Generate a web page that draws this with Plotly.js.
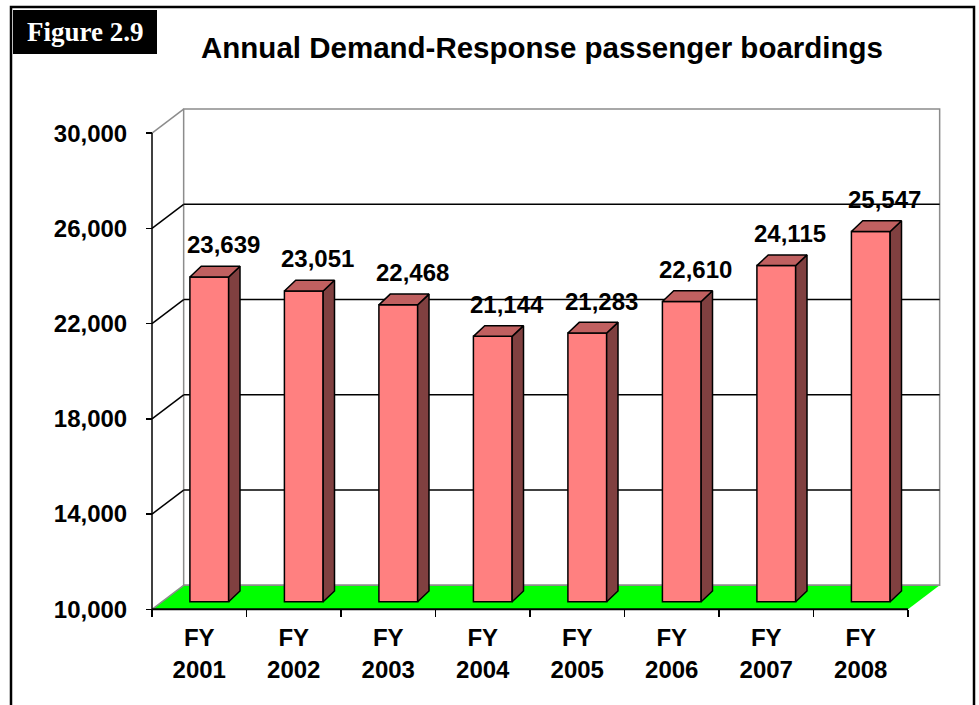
<!DOCTYPE html>
<html>
<head>
<meta charset="utf-8">
<script src="https://cdn.plot.ly/plotly-3.0.1.min.js"></script>
<style>html,body{margin:0;padding:0;background:#fff;}#chart{width:979px;height:705px;}</style>
</head>
<body>
<div id="chart"></div>
<script>
// ---- data ----
const categories = ['FY<br>2001', 'FY<br>2002', 'FY<br>2003', 'FY<br>2004', 'FY<br>2005', 'FY<br>2006', 'FY<br>2007', 'FY<br>2008'];
const boardings = [23639, 23051, 22468, 21144, 21283, 22610, 24115, 25547];
const yTicks = [10000, 14000, 18000, 22000, 26000, 30000];
const chartTitle = 'Annual Demand-Response passenger boardings';
const figureLabel = 'Figure 2.9';

// ---- geometry / style ----
const WIDTH = 979, HEIGHT = 705;
const L = 130, R = 20, T = 95, B = 80;
const PW = WIDTH - L - R, PH = HEIGHT - T - B;
const FX = 152, CW = 94.5;          // px of front x-axis start, px per category
const FY = 609.3, VK = 0.02381;     // px of y minimum, px per unit
const VMIN = yTicks[0], VMAX = yTicks[yTicks.length - 1];
const DX = 0.335, DY = 1008;        // wall depth in data units
const BOFF = 0.317;                 // bar front-face depth fraction
const BW = 0.41, BDX = 0.12, BDY = 450;
const FRONT_X = BOFF * DX, FRONT_Y = BOFF * DY;
const BASE = VMIN + FRONT_Y;
const n = boardings.length;
const xLo = -0.5, xHi = n - 0.5;

const xr0 = (L - FX) / CW - 0.5, xr1 = (L + PW - FX) / CW - 0.5;
const yr0 = VMIN + (FY - (T + PH)) / VK, yr1 = VMIN + (FY - T) / VK;
const px2paperX = px => (px - L) / PW;
const py2paperY = py => (T + PH - py) / PH;

const FONT = 'Liberation Sans, Arial, sans-serif';
const FRONT_COLOR = '#FF8080', SIDE_COLOR = '#804040', TOP_COLOR = '#C06060';
const GRAY = '#8c8c8c';

// ---- shapes (frame) ----
const shapes = [];
// back wall
shapes.push({type: 'rect', xref: 'x', yref: 'y', layer: 'below',
  x0: xLo + DX, x1: xHi + DX, y0: VMIN + DY, y1: VMAX + DY,
  fillcolor: '#ffffff', line: {color: GRAY, width: 1.5}});
// floor
shapes.push({type: 'path', xref: 'x', yref: 'y', layer: 'below',
  path: `M ${xLo},${VMIN} L ${xHi},${VMIN} L ${xHi + DX},${VMIN + DY} L ${xLo + DX},${VMIN + DY} Z`,
  fillcolor: '#00FF00', line: {width: 0}});
// floor back edge
shapes.push({type: 'line', xref: 'x', yref: 'y', layer: 'below',
  x0: xLo + DX, x1: xHi + DX, y0: VMIN + DY, y1: VMIN + DY, line: {color: GRAY, width: 1.5}});
// grid lines on back wall + left wall diagonals
yTicks.forEach((v, k) => {
  const edge = (k === 0 || k === yTicks.length - 1);
  if (!edge) {
    shapes.push({type: 'line', xref: 'x', yref: 'y', layer: 'below',
      x0: xLo + DX, x1: xHi + DX, y0: v + DY, y1: v + DY, line: {color: '#000000', width: 1.5}});
  }
  shapes.push({type: 'line', xref: 'x', yref: 'y', layer: 'below',
    x0: xLo, x1: xLo + DX, y0: v, y1: v + DY, line: {color: edge ? GRAY : '#000000', width: 1.5}});
});
// front axes lines
shapes.push({type: 'line', xref: 'x', yref: 'y', layer: 'below',
  x0: xLo, x1: xLo, y0: VMIN, y1: VMAX, line: {color: '#000000', width: 1.5}});
shapes.push({type: 'line', xref: 'x', yref: 'y', layer: 'below',
  x0: xLo, x1: xHi, y0: VMIN, y1: VMIN, line: {color: '#000000', width: 2}});
// outer frame
shapes.push({type: 'rect', xref: 'paper', yref: 'paper', layer: 'above',
  x0: px2paperX(11), x1: px2paperX(974), y0: py2paperY(7), y1: py2paperY(730),
  fillcolor: 'rgba(0,0,0,0)', line: {color: '#000000', width: 2.5}});
// figure label box
shapes.push({type: 'rect', xref: 'paper', yref: 'paper', layer: 'above',
  x0: px2paperX(13), x1: px2paperX(157), y0: py2paperY(10), y1: py2paperY(54),
  fillcolor: '#000000', line: {width: 0}});

// ---- traces ----
const idx = boardings.map((_, i) => i);
const traces = [];
traces.push({type: 'bar', x: idx, y: boardings.map(v => v - VMIN), base: BASE,
  width: BW, offset: FRONT_X - BW / 2,
  marker: {color: FRONT_COLOR, line: {color: '#000000', width: 1.5}},
  hoverinfo: 'skip', showlegend: false});
boardings.forEach((v, i) => {
  const xl = i + FRONT_X - BW / 2, xr = i + FRONT_X + BW / 2, vt = v + FRONT_Y;
  traces.push({type: 'scatter', mode: 'lines', fill: 'toself', fillcolor: SIDE_COLOR,
    x: [xr, xr, xr + BDX, xr + BDX, xr], y: [BASE, vt, vt + BDY, BASE + BDY, BASE],
    line: {color: '#000000', width: 1.5}, hoverinfo: 'skip', showlegend: false});
  traces.push({type: 'scatter', mode: 'lines', fill: 'toself', fillcolor: TOP_COLOR,
    x: [xl, xr, xr + BDX, xl + BDX, xl], y: [vt, vt, vt + BDY, vt + BDY, vt],
    line: {color: '#000000', width: 1.5}, hoverinfo: 'skip', showlegend: false});
});

// ---- annotations ----
const annotations = boardings.map((v, i) => ({
  xref: 'x', yref: 'y', x: i + FRONT_X, y: v + FRONT_Y,
  text: v.toLocaleString('en-US'), showarrow: false,
  xanchor: 'center', yanchor: 'middle', xshift: 14, yshift: 32,
  font: {family: FONT, size: 24, weight: 'bold', color: '#000000'}
}));
annotations.push({xref: 'paper', yref: 'paper', x: px2paperX(85), y: py2paperY(32),
  xanchor: 'center', yanchor: 'middle', showarrow: false, text: figureLabel,
  font: {family: 'Liberation Serif, Times New Roman, serif', size: 27, weight: 'bold', color: '#ffffff'}});

const layout = {
  width: WIDTH, height: HEIGHT,
  margin: {l: L, r: R, t: T, b: B},
  paper_bgcolor: '#ffffff', plot_bgcolor: 'rgba(0,0,0,0)',
  showlegend: false,
  title: {text: chartTitle, xref: 'container', yref: 'container',
    x: 542 / WIDTH, xanchor: 'center', y: 1 - 48 / HEIGHT, yanchor: 'middle',
    font: {family: FONT, size: 29.5, weight: 'bold', color: '#000000'}},
  xaxis: {range: [xr0, xr1], anchor: 'free', position: py2paperY(FY),
    tickmode: 'array', tickvals: [...idx.map(i => i - 0.5), n - 0.5],
    ticktext: [...idx.map(() => ''), ''], ticks: 'outside', ticklen: 7, tickwidth: 1.5, tickcolor: '#000000',
    showgrid: false, zeroline: false, showline: false, fixedrange: true},
  xaxis2: {range: [xr0, xr1], overlaying: 'x', anchor: 'free', position: py2paperY(FY),
    tickmode: 'array', tickvals: idx, ticktext: categories, ticks: '', ticklabelstandoff: 12,
    tickfont: {family: FONT, size: 24, weight: 'bold', color: '#000000'},
    showgrid: false, zeroline: false, showline: false, fixedrange: true},
  yaxis: {range: [yr0, yr1], anchor: 'free', position: px2paperX(FX),
    tickmode: 'array', tickvals: yTicks, tickformat: ',', ticks: 'outside', ticklen: 6, tickwidth: 1.5,
    tickcolor: '#000000', ticklabelstandoff: 14,
    tickfont: {family: FONT, size: 24, weight: 'bold', color: '#000000'},
    showgrid: false, zeroline: false, showline: false, fixedrange: true},
  shapes: shapes,
  annotations: annotations
};

// invisible trace to activate xaxis2
traces.push({type: 'scatter', x: [0], y: [VMIN], xaxis: 'x2', mode: 'markers',
  marker: {opacity: 0}, hoverinfo: 'skip', showlegend: false});

Plotly.newPlot('chart', traces, layout, {displayModeBar: false, staticPlot: true});
</script>
</body>
</html>
